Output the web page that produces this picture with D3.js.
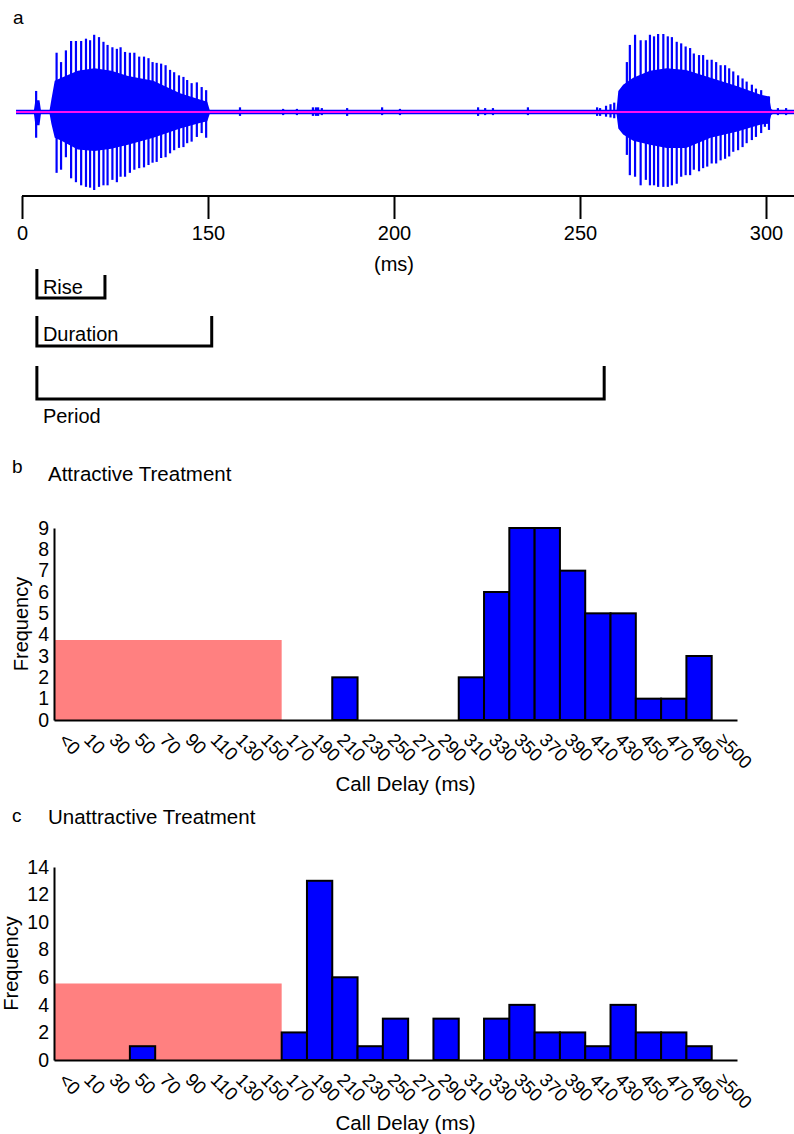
<!DOCTYPE html>
<html>
<head>
<meta charset="utf-8">
<script src="https://cdn.jsdelivr.net/npm/d3@7"></script>
<style>
  body { margin: 0; background: #fff; }
  svg { display: block; background: #fff; }
  text { font-family: "Liberation Sans", Arial, Helvetica, sans-serif; fill: #000; }
</style>
</head>
<body>
<svg id="chart" width="794" height="1134"></svg>
<script>
// ---------------- DATA ----------------
// Panel a: oscillogram (time in ms on the figure's axis, amplitude in relative units)
const waveTicks = [100, 150, 200, 250, 300];
const waveTickLabels = ["0", "150", "200", "250", "300"];
const waveExtent = [98.4, 307.6];

// individual pulses: [time, top amplitude, bottom amplitude]
const call1Pulses = [
  [103.8, 0.27, -0.33],
  [109.3, 0.76, -0.78], [110.5, 0.64, -0.74], [111.8, 0.79, -0.58], [113.2, 0.91, -0.85],
  [114.5, 0.91, -0.90], [115.9, 0.91, -0.94], [117.2, 0.94, -0.96], [118.3, 0.92, -0.97],
  [119.4, 0.99, -1.00], [120.7, 0.96, -0.96], [121.9, 0.90, -0.94], [123.0, 0.86, -0.94],
  [124.3, 0.83, -0.87], [125.5, 0.81, -0.90], [126.5, 0.83, -0.83], [127.7, 0.77, -0.83],
  [129.0, 0.76, -0.78], [130.2, 0.76, -0.74], [131.5, 0.71, -0.72], [132.8, 0.71, -0.71],
  [134.0, 0.69, -0.68], [135.1, 0.64, -0.65], [136.2, 0.63, -0.64], [137.4, 0.62, -0.59],
  [138.6, 0.60, -0.58], [139.8, 0.54, -0.53], [140.9, 0.51, -0.49], [142.2, 0.47, -0.46],
  [143.4, 0.45, -0.45], [144.4, 0.41, -0.40], [145.6, 0.37, -0.38], [147.0, 0.38, -0.32],
  [148.3, 0.32, -0.27], [149.5, 0.28, -0.33]
];
const call2Pulses = [
  [262.6, 0.64, -0.55], [263.4, 0.86, -0.81], [264.8, 0.99, -0.83], [266.3, 0.92, -0.94],
  [267.7, 0.92, -0.87], [268.8, 0.99, -0.94], [269.9, 0.97, -0.94], [271.0, 1.00, -0.96],
  [272.4, 1.00, -0.96], [273.6, 0.97, -0.96], [274.7, 0.96, -0.94], [276.0, 0.90, -0.92],
  [277.2, 0.88, -0.83], [278.4, 0.84, -0.81], [279.6, 0.82, -0.81], [280.6, 0.75, -0.74],
  [282.0, 0.73, -0.76], [283.1, 0.73, -0.72], [284.2, 0.67, -0.70], [285.4, 0.67, -0.66],
  [286.6, 0.64, -0.66], [287.8, 0.60, -0.62], [289.0, 0.60, -0.60], [290.1, 0.56, -0.57],
  [291.2, 0.52, -0.51], [292.5, 0.47, -0.49], [293.7, 0.43, -0.45], [294.8, 0.39, -0.40],
  [296.2, 0.35, -0.36], [297.3, 0.30, -0.32], [298.7, 0.28, -0.27], [299.7, 0.20, -0.19],
  [300.8, 0.20, -0.23]
];
const noisePulses = [
  [158.6, 0.06, -0.05], [170.2, 0.04, -0.04], [173.9, 0.04, -0.04], [178.2, 0.06, -0.05],
  [179.0, 0.06, -0.05], [179.6, 0.06, -0.05], [180.6, 0.05, -0.04], [187.4, 0.05, -0.05],
  [196.8, 0.06, -0.04], [201.6, 0.04, -0.04], [222.6, 0.06, -0.05], [224.5, 0.05, -0.04],
  [226.6, 0.05, -0.04], [236.0, 0.06, -0.04], [254.6, 0.06, -0.05], [255.4, 0.05, -0.05],
  [257.0, 0.08, -0.06], [258.2, 0.10, -0.07], [259.2, 0.12, -0.08],
  [303.2, 0.05, -0.04], [305.4, 0.05, -0.04]
];
// dense body envelopes: [time, top, bottom]
const call1Core = [
  [103.2, 0.02, -0.02], [103.6, 0.15, -0.17], [104.7, 0.15, -0.17], [105.1, 0.02, -0.02],
  [107.4, 0.02, -0.02], [107.9, 0.16, -0.15], [108.8, 0.40, -0.33], [110.6, 0.44, -0.37],
  [115.0, 0.53, -0.48], [119.5, 0.56, -0.50], [124.0, 0.53, -0.47], [128.5, 0.46, -0.42],
  [135.3, 0.40, -0.33], [142.5, 0.24, -0.21], [147.8, 0.16, -0.14], [149.8, 0.13, -0.12],
  [150.5, 0.02, -0.02]
];
const call2Core = [
  [259.8, 0.02, -0.02], [260.3, 0.27, -0.21],
  [261.6, 0.35, -0.29], [264.3, 0.44, -0.37], [268.8, 0.53, -0.42], [273.3, 0.56, -0.46],
  [278.5, 0.54, -0.46], [285.1, 0.44, -0.33], [292.3, 0.33, -0.25], [298.6, 0.22, -0.16],
  [300.8, 0.20, -0.15], [301.4, 0.04, -0.04], [302.0, 0.02, -0.02]
];
// brackets (ms)
const bracketNames = ["Rise", "Duration", "Period"];
const bracketStarts = [104, 104, 104];
const bracketEnds = [122.3, 151, 256.5];

// Panels b and c: call delay histograms
const delayLabels = ["<0", "10", "30", "50", "70", "90", "110", "130", "150", "170", "190",
  "210", "230", "250", "270", "290", "310", "330", "350", "370", "390", "410", "430",
  "450", "470", "490", "≥500"];
const attractiveCounts = [0, 0, 0, 0, 0, 0, 0, 0, 0, 0, 0, 2, 0, 0, 0, 0, 2, 6, 9, 9, 7, 5, 5, 1, 1, 3, 0];
const unattractiveCounts = [0, 0, 0, 1, 0, 0, 0, 0, 0, 2, 13, 6, 1, 3, 0, 3, 0, 3, 4, 2, 2, 1, 4, 2, 2, 1, 0];
// shaded region (first 9 bins), height in frequency units
const shadedBins = ["<0", "10", "30", "50", "70", "90", "110", "130", "150"];
const attractiveShade = 3.75;
const unattractiveShade = 5.55;
const attractiveYTicks = [0, 1, 2, 3, 4, 5, 6, 7, 8, 9];
const unattractiveYTicks = [0, 2, 4, 6, 8, 10, 12, 14];

// ---------------- DRAW ----------------
const FONT = '"Liberation Sans", Arial, Helvetica, sans-serif';
const svg = d3.select("#chart");
const BLUE = "#0000ff";

// ===== Panel a =====
const xWave = d3.scaleLinear().domain([100, 300]).range([22, 766]);
const yWave = d3.scaleLinear().domain([-1, 1]).range([190, 34]);
const gA = svg.append("g");
gA.append("text").attr("x", 13).attr("y", 24).attr("font-size", 19).text("a");

const area = d3.area()
  .x(d => xWave(d[0]))
  .y0(d => yWave(d[2]))
  .y1(d => yWave(d[1]));
[call1Core, call2Core].forEach(c => {
  gA.append("path").attr("d", area(c)).attr("fill", BLUE);
});

gA.append("g").selectAll("line")
  .data(noisePulses.concat(call1Pulses, call2Pulses))
  .join("line")
  .attr("x1", d => xWave(d[0])).attr("x2", d => xWave(d[0]))
  .attr("y1", d => yWave(d[1])).attr("y2", d => yWave(d[2]))
  .attr("stroke", BLUE).attr("stroke-width", 2.2);

// baseline
gA.append("line")
  .attr("x1", xWave(waveExtent[0])).attr("x2", xWave(waveExtent[1]))
  .attr("y1", yWave(0)).attr("y2", yWave(0))
  .attr("stroke", BLUE).attr("stroke-width", 4.5);
gA.append("line")
  .attr("x1", xWave(waveExtent[0])).attr("x2", xWave(waveExtent[1]))
  .attr("y1", yWave(0)).attr("y2", yWave(0))
  .attr("stroke", "#ff10f0").attr("stroke-width", 2);

// time axis
const axA = d3.axisBottom(xWave)
  .tickValues(waveTicks)
  .tickFormat((d, i) => waveTickLabels[i])
  .tickSize(23).tickPadding(7).tickSizeOuter(0);
const gAx = gA.append("g").attr("transform", "translate(0,196)").call(axA);
gAx.select(".domain").remove();
gAx.append("line")
  .attr("x1", xWave(waveTicks[0])).attr("x2", xWave(waveExtent[1]))
  .attr("y1", 0).attr("y2", 0)
  .attr("stroke", "#000").attr("stroke-width", 2);
gAx.selectAll(".tick line").attr("stroke", "#000").attr("stroke-width", 2);
gAx.selectAll(".tick text")
  .attr("font-size", 20).attr("font-family", FONT).attr("fill", "#000");
gA.append("text").attr("x", xWave(200)).attr("y", 271)
  .attr("text-anchor", "middle").attr("font-size", 20).text("(ms)");

// brackets
const bracketLayout = [
  { topL: 269, topR: 275, bottom: 298, labelY: 294 },
  { topL: 316, topR: 316, bottom: 346, labelY: 341 },
  { topL: 366, topR: 366, bottom: 399, labelY: 423 }
];
bracketNames.forEach((name, i) => {
  const L = bracketLayout[i];
  const x0 = xWave(bracketStarts[i]), x1 = xWave(bracketEnds[i]);
  gA.append("path")
    .attr("d", `M${x0},${L.topL}V${L.bottom}H${x1}V${L.topR}`)
    .attr("fill", "none").attr("stroke", "#000").attr("stroke-width", 3);
  gA.append("text").attr("x", x0 + 6).attr("y", L.labelY)
    .attr("font-size", 20).text(name);
});

// ===== Panels b & c =====
const xBand = d3.scaleBand().domain(delayLabels).range([54, 737]).padding(0);

function histogram(opts) {
  const g = svg.append("g");
  const y = d3.scaleLinear().domain([0, opts.yMax]).range([opts.bottom, opts.top]);

  g.append("text").attr("x", 12).attr("y", opts.letterY).attr("font-size", 19).text(opts.letter);
  g.append("text").attr("x", 48).attr("y", opts.titleY).attr("font-size", 20.5).text(opts.title);

  // shaded region
  g.append("rect")
    .attr("x", xBand(shadedBins[0]) + 1)
    .attr("width", xBand(shadedBins[shadedBins.length - 1]) + xBand.bandwidth() - xBand(shadedBins[0]) - 1)
    .attr("y", y(opts.shade))
    .attr("height", y(0) - y(opts.shade))
    .attr("fill", "#ff8080");

  // bars
  g.append("g").selectAll("rect")
    .data(opts.counts.map((c, i) => ({ label: delayLabels[i], count: c })).filter(d => d.count > 0))
    .join("rect")
    .attr("x", d => xBand(d.label))
    .attr("width", xBand.bandwidth())
    .attr("y", d => y(d.count))
    .attr("height", d => y(0) - y(d.count))
    .attr("fill", BLUE).attr("stroke", "#000").attr("stroke-width", 2);

  // x axis
  const ax = g.append("g").attr("transform", `translate(0,${opts.bottom})`)
    .call(d3.axisBottom(xBand).tickSize(0).tickSizeOuter(0));
  ax.select(".domain").attr("stroke", "#000").attr("stroke-width", 2);
  ax.selectAll(".tick text")
    .attr("font-size", 18.5).attr("font-family", FONT).attr("fill", "#000")
    .attr("x", 0).attr("y", 0).attr("dy", 0)
    .attr("text-anchor", "start")
    .attr("transform", "translate(-9,21) rotate(45)");

  // y axis
  const ay = g.append("g").attr("transform", "translate(54,0)")
    .call(d3.axisLeft(y).tickValues(opts.yTicks).tickFormat(d3.format("d")).tickSize(0).tickPadding(5).tickSizeOuter(0));
  ay.select(".domain").attr("stroke", "#000").attr("stroke-width", 2);
  ay.selectAll(".tick text").attr("font-size", 19.5).attr("font-family", FONT).attr("fill", "#000");

  g.append("text")
    .attr("transform", `translate(${opts.yLabelX},${(opts.top + opts.bottom) / 2}) rotate(-90)`)
    .attr("text-anchor", "middle").attr("font-size", 20).text("Frequency");
  g.append("text").attr("x", (54 + 737) / 2 + 10).attr("y", opts.xLabelY)
    .attr("text-anchor", "middle").attr("font-size", 20.5).text("Call Delay (ms)");
}

histogram({
  letter: "b", letterY: 473, title: "Attractive Treatment", titleY: 481,
  counts: attractiveCounts, shade: attractiveShade, yMax: 9, yTicks: attractiveYTicks,
  top: 528, bottom: 720, yLabelX: 28, xLabelY: 791
});
histogram({
  letter: "c", letterY: 822, title: "Unattractive Treatment", titleY: 824,
  counts: unattractiveCounts, shade: unattractiveShade, yMax: 14, yTicks: unattractiveYTicks,
  top: 867, bottom: 1060, yLabelX: 18, xLabelY: 1130
});
</script>
</body>
</html>
